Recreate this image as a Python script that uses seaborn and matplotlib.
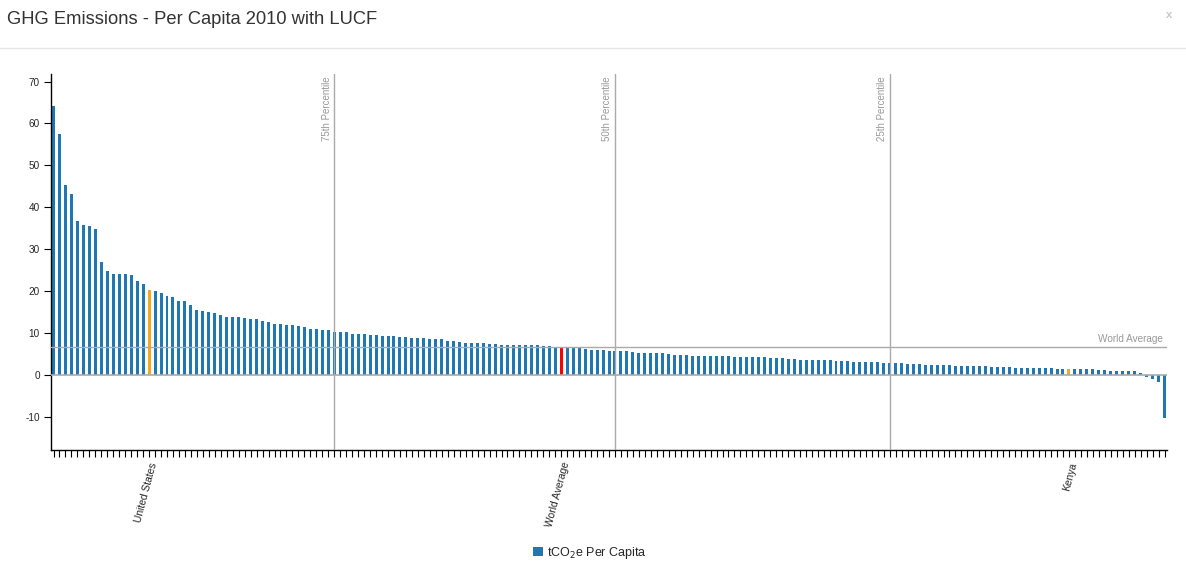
import numpy as np
import pandas as pd
import matplotlib
matplotlib.use("Agg")
import matplotlib.pyplot as plt
import matplotlib.transforms as mtransforms
from matplotlib.lines import Line2D
from matplotlib.patches import Patch
import seaborn as sns

# ---------------- data ----------------
per_capita = [
    64.2, 57.5, 45.3, 43.2, 36.8, 35.8, 35.6, 34.8, 27.0, 24.8,
    24.1, 24.1, 24.1, 23.9, 22.4, 21.7, 20.3, 20.0, 19.6, 18.9,
    18.6, 17.7, 17.7, 16.7, 15.5, 15.3, 15.0, 14.8, 14.3, 13.8,
    13.8, 13.8, 13.6, 13.4, 13.4, 12.9, 12.6, 12.2, 12.2, 11.9,
    11.9, 11.7, 11.5, 11.0, 11.0, 10.7, 10.7, 10.3, 10.3, 10.3,
    9.8, 9.8, 9.8, 9.5, 9.5, 9.3, 9.3, 9.3, 9.1, 9.1,
    8.8, 8.8, 8.8, 8.6, 8.6, 8.6, 8.1, 8.1, 7.9, 7.6,
    7.6, 7.6, 7.6, 7.4, 7.4, 7.2, 7.2, 7.2, 7.2, 7.2,
    7.2, 7.2, 6.9, 6.9, 6.5, 6.6, 6.5, 6.5, 6.5, 6.2,
    6.0, 6.0, 6.0, 5.7, 5.7, 5.7, 5.7, 5.5, 5.3, 5.3,
    5.3, 5.3, 5.3, 5.0, 4.8, 4.8, 4.8, 4.5, 4.5, 4.5,
    4.5, 4.5, 4.5, 4.5, 4.3, 4.3, 4.3, 4.3, 4.3, 4.3,
    4.1, 4.1, 4.1, 3.8, 3.8, 3.6, 3.6, 3.6, 3.6, 3.6,
    3.6, 3.3, 3.3, 3.3, 3.1, 3.1, 3.1, 3.1, 3.1, 2.9,
    2.9, 2.9, 2.9, 2.6, 2.6, 2.6, 2.4, 2.4, 2.4, 2.4,
    2.4, 2.1, 2.1, 2.1, 2.1, 2.1, 2.1, 1.9, 1.9, 1.9,
    1.9, 1.7, 1.7, 1.7, 1.7, 1.7, 1.7, 1.7, 1.4, 1.4,
    1.4, 1.4, 1.4, 1.4, 1.4, 1.2, 1.2, 1.0, 1.0, 1.0,
    1.0, 1.0, 0.5, -0.6, -1.0, -1.7, -10.3,
]
labelled_positions = [16, 85, 170]
labelled_names = ["United States", "World Average", "Kenya"]
labelled_groups = ["us", "world", "kenya"]
percentile_positions = [47, 94, 140]
percentile_names = ["75th Percentile", "50th Percentile", "25th Percentile"]
world_average = 6.6
y_ticks = [-10, 0, 10, 20, 30, 40, 50, 60, 70]

n = len(per_capita)
tick_labels = [""] * n
groups = ["normal"] * n
for pos, name, grp in zip(labelled_positions, labelled_names, labelled_groups):
    tick_labels[pos] = name
    groups[pos] = grp

df = pd.DataFrame({
    "key": [f"c{i:03d}" for i in range(n)],
    "value": per_capita,
    "group": groups,
})

BLUE = "#1f77b4"
palette = {"normal": BLUE, "us": "#f5a623", "world": "#ff0000", "kenya": "#f5a623"}
GRAY = "#aaaaaa"
LABEL_GRAY = "#999999"

# ---------------- plot ----------------
sns.set_style("white")
plt.rcParams["font.family"] = ["Liberation Sans", "DejaVu Sans"]

W, H = 1186, 580
fig = plt.figure(figsize=(W / 100, H / 100), dpi=100)
ax = fig.add_axes([51 / W, 1 - 450 / H, (1166.5 - 51) / W, (450 - 74) / H])

sns.barplot(data=df, x="key", y="value", hue="group", palette=palette,
            dodge=False, width=0.5, saturation=1, legend=False, ax=ax,
            order=list(df["key"]), linewidth=0, edgecolor="none")

# make every bar exactly half a category wide, centred on its tick
for p in ax.patches:
    c = p.get_x() + p.get_width() / 2
    p.set_width(0.5)
    p.set_x(c - 0.25)
    p.set_linewidth(0)

ax.set_xlim(-0.42, n - 1 + 0.33)
ax.set_ylim(-17.9, 71.8)

ax.axhline(0, color=GRAY, lw=1.2, zorder=3)
ax.axhline(world_average, color=GRAY, lw=1.0, zorder=3)
ax.text(n - 1 - 0.2, world_average + 0.9, "World Average", ha="right", va="bottom",
        color=LABEL_GRAY, fontsize=7.2)

trans = mtransforms.blended_transform_factory(ax.transData, ax.transAxes)
for pos, name in zip(percentile_positions, percentile_names):
    ax.axvline(pos, color=GRAY, lw=1.0, zorder=3)
    ax.text(pos - 0.45, 0.994, name, rotation=90, ha="right", va="top",
            color=LABEL_GRAY, fontsize=7.0, transform=trans)

ax.set_xticks(range(n))
ax.set_xticklabels(tick_labels, rotation=75, ha="right", va="top",
                   rotation_mode="anchor", fontsize=7.4)
ax.set_yticks(y_ticks)
ax.set_yticklabels([str(t) for t in y_ticks], fontsize=7.2)
ax.tick_params(axis="x", length=5, width=0.8, color="black", pad=3, bottom=True)
ax.tick_params(axis="y", length=5, width=0.8, color="black", pad=3, left=True)
ax.set_xlabel("")
ax.set_ylabel("")

for side in ["top", "right"]:
    ax.spines[side].set_visible(False)
for side in ["left", "bottom"]:
    ax.spines[side].set_color("black")
    ax.spines[side].set_linewidth(1.0)

# header
fig.text(7 / W, 1 - 20 / H, "GHG Emissions - Per Capita 2010 with LUCF",
         fontsize=13.2, color="#333333", va="center", ha="left")
fig.text(1169 / W, 1 - 15 / H, "x", fontsize=8, color="#c8c8c8",
         va="center", ha="center", fontweight="bold")
fig.add_artist(Line2D([0, 1], [1 - 48 / H, 1 - 48 / H], color="#e5e5e5", lw=1.0,
                      transform=fig.transFigure))

# legend
fig.legend(handles=[Patch(facecolor=BLUE, edgecolor="none")],
           labels=["tCO$_2$e Per Capita"], loc="center",
           bbox_to_anchor=(590 / W, 1 - 553 / H), frameon=False, fontsize=9,
           handlelength=0.8, handleheight=0.8, handletextpad=0.3)

fig.savefig("out.png", dpi=100)
